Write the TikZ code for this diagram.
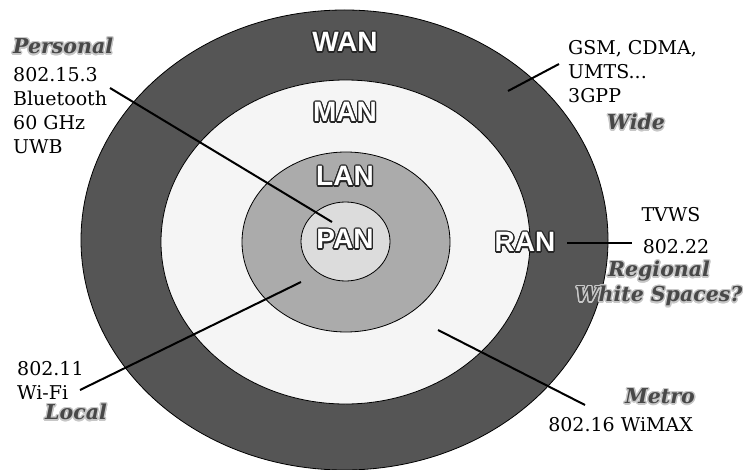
\documentclass[tikz,border=0pt]{standalone}
\usepackage{fontspec}
\setmainfont{DejaVu Serif}
\setsansfont{Liberation Sans}
\usepackage[copies]{contour}
\usetikzlibrary{shapes.geometric}
\definecolor{wancol}{HTML}{555555}
\definecolor{mancol}{HTML}{F5F5F5}
\definecolor{lancol}{HTML}{ABABAB}
\definecolor{pancol}{HTML}{DCDCDC}
\definecolor{tagcol}{HTML}{484848}
\newcommand{\netname}[1]{\contourlength{1.3pt}\contour{black!85}{#1}}
\newcommand{\tagname}[1]{\contourlength{1.4pt}\contour{black!22}{#1}}
\tikzset{
	ring/.style={
		ellipse,
		draw=black,
		line width=.8pt,
		inner sep=0pt
	},
	net/.style={
		text=white,
		inner sep=0pt,
		font=\sffamily\bfseries\fontsize{28}{30}\selectfont
	},
	note/.style={
		align=left,
		inner sep=0pt,
		font=\fontsize{19}{24}\selectfont
	},
	tag/.style={
		text=tagcol,
		inner sep=0pt,
		font=\bfseries\itshape\fontsize{20.5}{25}\selectfont
	},
	pointer/.style={line width=2pt}
}

\begin{document}
\begin{tikzpicture}[x=1pt,y=-1pt]
	\useasboundingbox (0,0) rectangle (743,470);
	\draw node[ring, fill=wancol, minimum width=527, minimum height=460] (WANring) at (344.5,240) {};
	\draw node[ring, fill=mancol, minimum width=369, minimum height=324] (MANring) at (345.5,242) {};
	\draw node[ring, fill=lancol, minimum width=208, minimum height=180] (LANring) at (346,242) {};
	\draw node[ring, fill=pancol, minimum width=89, minimum height=79] (PANring) at (345.5,241.5) {};
	
	\draw node[net] (WAN) at (345,43) {\netname{WAN}};
	\draw node[net] (MAN) at (345,113) {\netname{MAN}};
	\draw node[net] (LAN) at (345,177) {\netname{LAN}};
	\draw node[net] (PAN) at (345,240) {\netname{PAN}};
	\draw node[net] (RAN) at (525,243) {\netname{RAN}};
	
	\draw node[tag, anchor=west] (Personal) at (13,47) {\tagname{Personal}};
	\draw node[note, anchor=base west] (PersonalStd) at (13,154) {802.15.3\\Bluetooth\\60 GHz\\UWB};
	\draw node[note, anchor=base west] (WideStd) at (568,103) {GSM, CDMA,\\UMTS...\\3GPP};
	\draw node[tag] (Wide) at (636,123) {\tagname{Wide}};
	\draw node[note] (TVWS) at (671,215) {TVWS};
	\draw node[note] (RegionalStd) at (676,247) {802.22};
	\draw node[tag, align=center] (Regional) at (659,284.5) {\tagname{Regional}\\\tagname{White Spaces?}};
	\draw node[note, anchor=base west] (LocalStd) at (17,399) {802.11\\Wi-Fi};
	\draw node[tag] (Local) at (76,413) {\tagname{Local}};
	\draw node[tag, anchor=east] (Metro) at (695,397) {\tagname{Metro}};
	\draw node[note, anchor=base east] (MetroStd) at (693,431) {802.16 WiMAX};
	
	\coordinate (PersonalA) at (110,88);
	\coordinate (PersonalB) at (332,222);
	\coordinate (WideA) at (559,64);
	\coordinate (WideB) at (508,91);
	\coordinate (RegionalA) at (567,243);
	\coordinate (RegionalB) at (632,243);
	\coordinate (LocalA) at (80,390);
	\coordinate (LocalB) at (301,282);
	\coordinate (MetroA) at (585,405);
	\coordinate (MetroB) at (438,330);
	
	\draw [pointer] (PersonalA) -- (PersonalB);
	\draw [pointer] (WideA) -- (WideB);
	\draw [pointer] (RegionalA) -- (RegionalB);
	\draw [pointer] (LocalA) -- (LocalB);
	\draw [pointer] (MetroA) -- (MetroB);
\end{tikzpicture}
\end{document}
